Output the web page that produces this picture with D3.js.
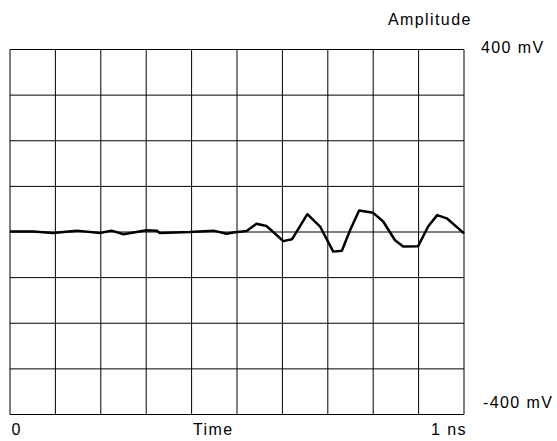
<!DOCTYPE html>
<html>
<head>
    <title>Amplitude vs Time</title>
    <script src="https://d3js.org/d3.v7.min.js"></script>
    <style>
        body { margin: 0; background: #fff; }
        svg { width: 557px; height: 441px; display: block; }
        text { font-family: "Liberation Sans", Arial, sans-serif; font-size: 16px; letter-spacing: 1.4px; fill: #000; }
        .grid line { stroke: #000; stroke-width: 1; }
        .trace { stroke: #000; stroke-width: 2.5; fill: none; stroke-linejoin: round; }
    </style>
</head>
<body>
    <svg id="visual"></svg>

    <script>
        // waveform (time in ps, amplitude in mV)
        const timePs = [0, 51, 95, 147, 198, 224, 250, 301, 323, 330, 396, 448, 477, 492,
            521, 543, 565, 573, 602, 621, 655, 683, 712, 731, 749, 769, 800, 822, 848,
            866, 899, 921, 941, 962, 1000];
        const amplitudeMv = [1, 1, -2, 3, -2, 3, -5, 4, 3, -2, 0, 3, -4, -1,
            2, 18, 13, 6, -20, -16, 39, 12, -43, -41, 4, 47, 42, 23, -18,
            -32, -31, 12, 37, 30, -3];

        const timeTicks = ["0", "1 ns"];
        const ampTicks = ["400 mV", "-400 mV"];
        const xLabel = "Time";
        const yLabel = "Amplitude";

        const svg = d3.select("#visual");

        const x = d3.scaleLinear().domain([0, 1000]).range([10, 464]);
        const y = d3.scaleLinear().domain([-400, 400]).range([414.5, 49.5]);

        // grid: 10 time divisions, 8 amplitude divisions
        const grid = svg.append("g").attr("class", "grid");
        grid.selectAll("line.v")
            .data(d3.range(0, 1001, 100))
            .enter().append("line")
            .attr("class", "v")
            .attr("x1", d => x(d)).attr("x2", d => x(d))
            .attr("y1", y(400)).attr("y2", y(-400));
        grid.selectAll("line.h")
            .data(d3.range(-400, 401, 100))
            .enter().append("line")
            .attr("class", "h")
            .attr("x1", x(0)).attr("x2", x(1000))
            .attr("y1", d => y(d)).attr("y2", d => y(d));

        // trace
        const pts = timePs.map((t, i) => [t, amplitudeMv[i]]);
        const line = d3.line().x(d => x(d[0])).y(d => y(d[1]));
        svg.append("path")
            .datum(pts)
            .attr("class", "trace")
            .attr("d", line);

        // labels
        svg.append("text").attr("x", 388).attr("y", 25).text(yLabel);
        svg.append("text").attr("x", 481).attr("y", 52.5).text(ampTicks[0]);
        svg.append("text").attr("x", 483).attr("y", 407.5).text(ampTicks[1]);
        svg.append("text").attr("x", 11.5).attr("y", 435).text(timeTicks[0]);
        svg.append("text").attr("x", 193).attr("y", 435).text(xLabel);
        svg.append("text").attr("x", 431).attr("y", 435).text(timeTicks[1]);
    </script>
</body>
</html>
